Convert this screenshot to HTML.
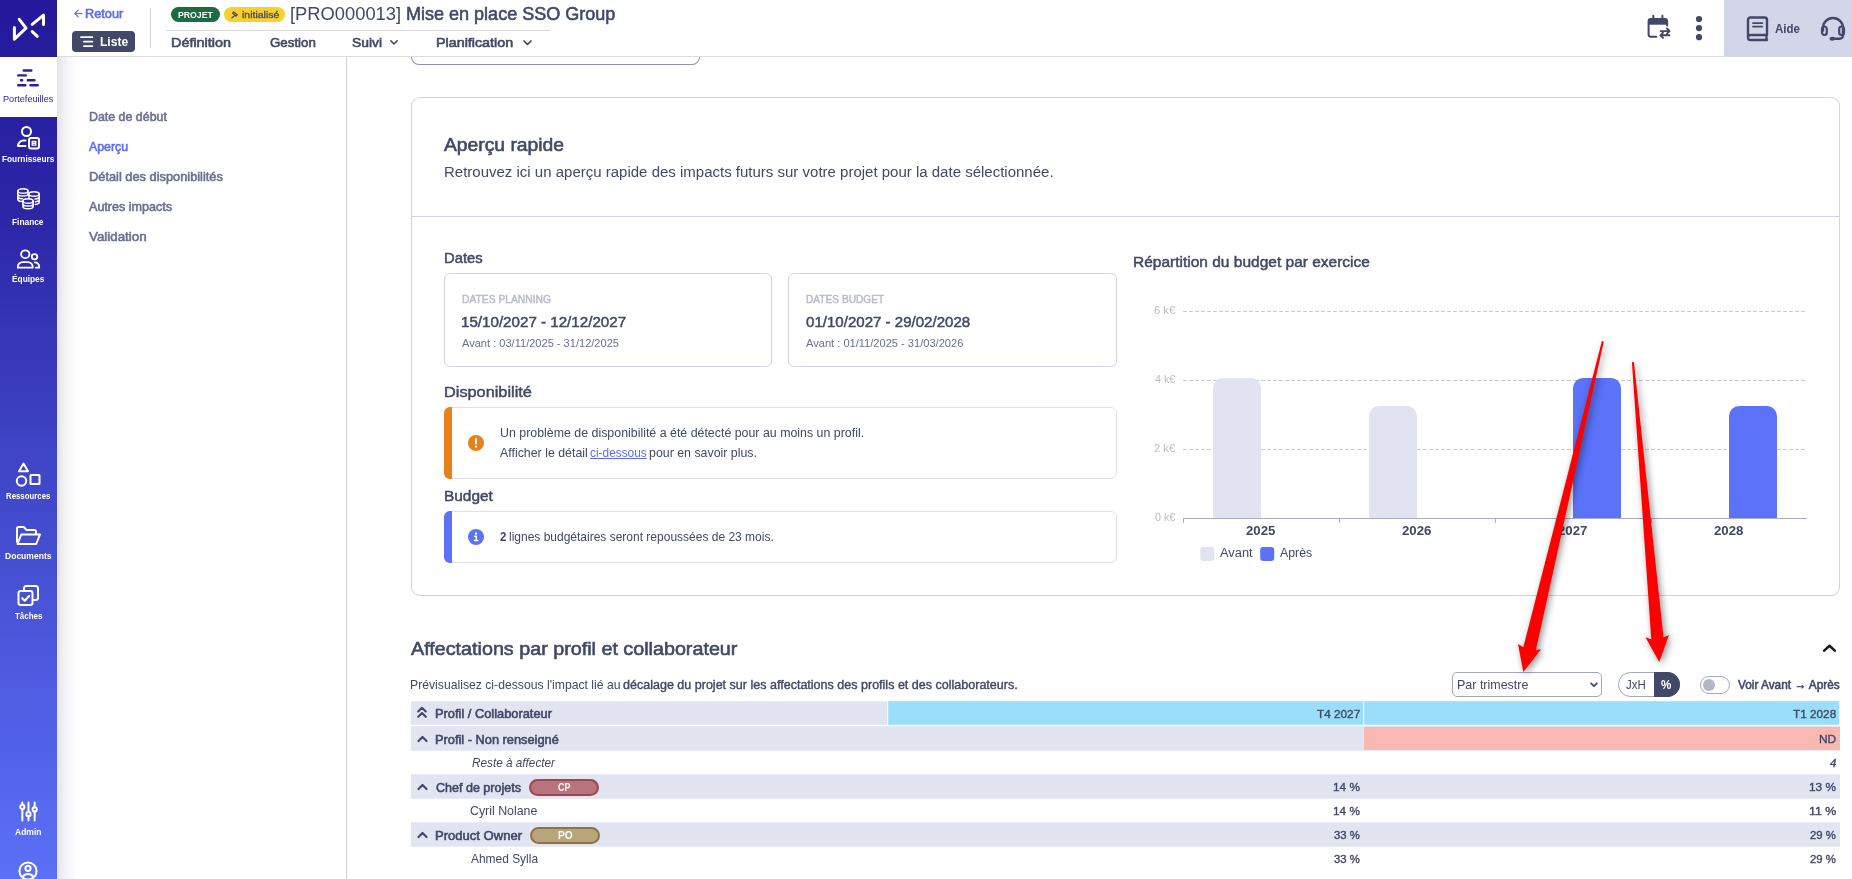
<!DOCTYPE html>
<html lang="fr">
<head>
<meta charset="utf-8">
<title>Aperçu rapide</title>
<style>
*{box-sizing:border-box;margin:0;padding:0}
html,body{width:1852px;height:879px;overflow:hidden;background:#fff;font-family:"Liberation Sans",sans-serif;color:#424867}
.a{position:absolute}
.t{position:absolute;white-space:nowrap;display:block;transform-origin:0 50%}
.texts{position:absolute;left:0;top:0;width:1852px;height:879px}
svg{position:absolute;overflow:visible}

</style>
</head>
<body>
<!-- ============ top header ============ -->
<div class="a" style="left:57px;top:0;width:1795px;height:57px;background:#fff;border-bottom:1px solid #dcdcdc"></div>
<div class="a" style="left:1724px;top:0;width:128px;height:57px;background:#d3d5e9"></div>
<div class="a" style="left:150px;top:8px;width:1px;height:40px;background:#d6d6d6"></div>
<div class="a" style="left:166px;top:30px;width:384px;height:1px;background:#d9d9d9"></div>
<div class="a" style="left:72px;top:31px;width:63px;height:21px;background:#424867;border-radius:4px"></div>
<svg style="left:80px;top:36px" width="14" height="12" viewBox="0 0 14 12"><path d="M1 1.200h11.300M4 5.700h8.300M4 10.200h8.300" stroke="#fff" stroke-width="1.800" fill="none" stroke-linecap="round"/></svg>
<div class="a" style="left:171px;top:7px;width:49px;height:15px;background:#1b6b43;border-radius:8px"></div>
<div class="a" style="left:224px;top:7px;width:61px;height:15px;background:#f9d12b;border-radius:8px"></div>
<svg style="left:230.800px;top:11px" width="7.600" height="7.600" viewBox="0 0 9 9"><path d="M3.2 1.2l4.2 3.4-1.6 1.6-3.8-3.6zM4.4 5.4L1 8.2" stroke="#424867" stroke-width="1.5" fill="none" stroke-linecap="round"/></svg>
<svg style="left:74px;top:8.500px" width="9" height="9" viewBox="0 0 10 10"><path d="M9.2 5H1M4.6 1.2L0.9 5l3.7 3.8" stroke="#5b6cf5" stroke-width="1.3" fill="none" stroke-linecap="round" stroke-linejoin="round"/></svg>
<svg style="left:390.300px;top:40.300px" width="8" height="5.300" viewBox="0 0 9 6"><path d="M1 1l3.5 3.5L8 1" stroke="#424867" stroke-width="1.7" fill="none" stroke-linecap="round" stroke-linejoin="round"/></svg>
<svg style="left:522.5px;top:40px" width="9" height="6" viewBox="0 0 9 6"><path d="M1 1l3.5 3.5L8 1" stroke="#424867" stroke-width="1.7" fill="none" stroke-linecap="round" stroke-linejoin="round"/></svg>
<!-- header right icons -->
<svg style="left:1646px;top:13px" width="26" height="27" viewBox="1646 13 26 27"><path d="M1648.600 19.500h18.500v5.200h-18.500z" fill="#424867"/><path d="M1656.300 36.700h-5.600a2.100 2.100 0 0 1-2.100-2.100v-13.400a2.100 2.100 0 0 1 2.100-2.100h14.300a2.100 2.100 0 0 1 2.100 2.100v4.200" stroke="#424867" stroke-width="2" fill="none" stroke-linecap="round"/><path d="M1653.300 15.800v3.500M1662.400 15.800v3.500" stroke="#424867" stroke-width="2" stroke-linecap="round"/><path d="M1660.600 31.100h8.600M1667 28.500l2.600 2.600-2.600 2.600M1669.400 35.300h-8.600M1663 32.700l-2.600 2.600 2.600 2.600" stroke="#424867" stroke-width="1.900" fill="none" stroke-linecap="round" stroke-linejoin="round"/></svg>
<svg style="left:1695px;top:15px" width="8" height="26" viewBox="0 0 8 26"><circle cx="4" cy="4" r="3.100" fill="#424867"/><circle cx="4" cy="13.100" r="3.100" fill="#424867"/><circle cx="4" cy="22.200" r="3.100" fill="#424867"/></svg>
<svg style="left:1746px;top:16px" width="23" height="26" viewBox="0 0 23 26"><path d="M2 20.500V3.900A2.400 2.400 0 0 1 4.400 1.500h14.200A2.400 2.400 0 0 1 21 3.900V19H4.500A2.500 2.500 0 0 0 2 21.500 2.500 2.500 0 0 0 4.500 24H21M20.500 19v5" stroke="#424867" stroke-width="2.400" fill="none" stroke-linecap="round" stroke-linejoin="round"/><path d="M7 7.100h9.300M7 10.600h9.300" stroke="#424867" stroke-width="1.900" stroke-linecap="round"/></svg>
<svg style="left:1820px;top:16px" width="26" height="26" viewBox="0 0 26 26"><path d="M3 14.500V12a10 10 0 0 1 20 0v7.500a3.200 3.200 0 0 1-3.200 3.200H14" stroke="#424867" stroke-width="2.400" fill="none" stroke-linecap="round"/><rect x="2" y="10.500" width="4.800" height="8.500" rx="2.400" stroke="#424867" stroke-width="2.200" fill="none"/><rect x="19.200" y="10.500" width="4.800" height="8.500" rx="2.400" stroke="#424867" stroke-width="2.200" fill="none"/><ellipse cx="12.200" cy="22.700" rx="2.700" ry="2" fill="#424867"/></svg>

<!-- ============ left sidebar ============ -->
<div class="a" style="left:57px;top:57px;width:26px;height:822px;background:linear-gradient(90deg,#e3e3e8 0,#eeeef1 5px,#f7f7f9 11px,#fcfcfd 17px,#fff 24px)"></div>
<div class="a" style="left:0;top:0;width:57px;height:879px;background:linear-gradient(180deg,#23189a 0,#2d27a8 25%,#3d43c4 50%,#4c59de 75%,#5b70f7 100%)"></div>
<div class="a" style="left:0;top:57px;width:57px;height:60px;background:#fff"></div>
<!-- logo -->
<svg style="left:0;top:0" width="57" height="57" viewBox="0 0 57 57"><path d="M14.4 27.500V39.200L26 28.200 19.300 19.300M32.200 24.300L43.500 15.200V24.600M32.300 31.600L37.300 36.300" stroke="#fff" stroke-width="3" fill="none" stroke-linecap="round" stroke-linejoin="round"/></svg>
<!-- portefeuilles -->
<svg style="left:0;top:57px" width="57" height="60" viewBox="0 57 57 60"><path d="M23.700 70.500h7.600M18.200 75.400h7.600M21 80.300h1.200M27.800 80.300h6.700M18.200 85.200h7.200M30.500 85.200h7.200" stroke="#2a1f9e" stroke-width="2.400" stroke-linecap="round" fill="none"/></svg>
<!-- fournisseurs -->
<svg style="left:16px;top:125px" width="26" height="26" viewBox="0 0 26 26"><circle cx="10.500" cy="6.500" r="4.500" stroke="#fff" stroke-width="2" fill="none"/><path d="M9.500 15.500H7.500A5.500 5.500 0 0 0 2 21h7.500" stroke="#fff" stroke-width="2" fill="none" stroke-linecap="round" stroke-linejoin="round"/><rect x="13" y="13" width="10" height="10.500" rx="2" stroke="#fff" stroke-width="2" fill="none"/><path d="M16.200 16.500h3.600v3.600h-3.600zM16.200 18.300h3.600" stroke="#fff" stroke-width="1.300" fill="none"/></svg>
<!-- finance -->
<svg style="left:15.500px;top:187px" width="25" height="23.500" viewBox="0 0 27 27" preserveAspectRatio="none"><g stroke="#fff" stroke-width="1.700" fill="none" stroke-linecap="round"><ellipse cx="7.500" cy="4.500" rx="5.500" ry="2.600"/><path d="M2 4.500v9.500c0 1.400 2 2.500 4.500 2.600M2 7.700c0 1.400 2.500 2.600 5.500 2.600s5.500-1.200 5.500-2.600M13 4.500v5M2 10.900c0 1.400 2.200 2.500 4.800 2.600"/><ellipse cx="19.500" cy="8" rx="5.500" ry="2.600"/><path d="M14 8v4M25 8v9.500c0 1.300-1.800 2.300-4.200 2.500M25 11.200c0 1.300-2 2.400-4.500 2.600M25 14.400c0 1.200-1.700 2.200-4 2.500"/><ellipse cx="13" cy="16" rx="5.500" ry="2.600"/><path d="M7.500 16v6.500c0 1.400 2.500 2.600 5.500 2.600s5.500-1.200 5.500-2.600V16M7.500 19.200c0 1.400 2.500 2.600 5.500 2.600s5.500-1.200 5.500-2.600"/></g></svg>
<!-- equipes -->
<svg style="left:15.500px;top:248.500px" width="25" height="20" viewBox="0 0 27 23" preserveAspectRatio="none"><g stroke="#fff" stroke-width="2" fill="none" stroke-linecap="round" stroke-linejoin="round"><circle cx="10" cy="6" r="4.500"/><path d="M2 21.500v-1.200A5.300 5.300 0 0 1 7.300 15h5.400A5.300 5.300 0 0 1 18 20.300v1.200z"/><circle cx="20" cy="9" r="3"/><path d="M20.500 15.500a4.500 4.500 0 0 1 4.500 4.500v1.500h-3.500"/></g></svg>
<!-- ressources -->
<svg style="left:15px;top:461px" width="27" height="27" viewBox="0 0 27 27"><g stroke="#fff" stroke-width="2" fill="none" stroke-linejoin="round"><path d="M8.500 2.500l4.500 7.700H4z"/><circle cx="6.500" cy="20" r="4.700"/><rect x="15.500" y="14" width="9" height="9" rx="0.500"/></g></svg>
<!-- documents -->
<svg style="left:15px;top:525px" width="27" height="21" viewBox="0 0 27 21"><g stroke="#fff" stroke-width="2" fill="none" stroke-linejoin="round" stroke-linecap="round"><path d="M2 17V3.500A1.500 1.500 0 0 1 3.500 2h5.300l2.700 3h8A1.500 1.500 0 0 1 21 6.500V9"/><path d="M2.500 19l3.800-9.500H25L21.200 19z"/></g></svg>
<!-- taches -->
<svg style="left:17px;top:584px" width="23" height="23" viewBox="0 0 23 23"><g stroke="#fff" stroke-width="2" fill="none" stroke-linejoin="round" stroke-linecap="round"><rect x="1.500" y="7" width="14" height="14" rx="2.200"/><path d="M7 7V4.200A2.200 2.200 0 0 1 9.200 2h9.600A2.200 2.200 0 0 1 21 4.200v9.600A2.200 2.200 0 0 1 18.800 16H16"/><path d="M5.200 14.200l2.500 2.500 4.500-4.700" stroke-width="2.200"/></g></svg>
<!-- admin -->
<svg style="left:18.500px;top:800.500px" width="19" height="21" viewBox="0 0 20 22"><g stroke="#fff" stroke-width="2.100" fill="none" stroke-linecap="round"><path d="M3.500 1.500v2.500M3.500 8.500v12M10 1.500v10M10 16v4.500M16.500 1.500v5M16.500 11v9.500"/><circle cx="3.500" cy="6.200" r="2.200"/><circle cx="10" cy="13.800" r="2.200"/><circle cx="16.500" cy="8.800" r="2.200"/></g></svg>
<!-- user -->
<svg style="left:18px;top:860.600px" width="20" height="20" viewBox="0 0 20 20"><g stroke="#fff" stroke-width="2" fill="none"><circle cx="10" cy="10" r="8.600"/><circle cx="10" cy="7.300" r="2.600"/><path d="M4.500 16.500c1-2.300 3-3.500 5.500-3.500s4.500 1.200 5.500 3.500"/></g></svg>

<!-- ============ left nav panel ============ -->
<div class="a" style="left:346px;top:57px;width:1px;height:822px;background:#d3d3d6"></div>

<!-- ============ content ============ -->
<div class="a" style="left:411px;top:40px;width:289px;height:25px;border:1px solid #8f93ad;border-top:0;border-radius:0 0 8px 8px;clip-path:inset(17px 0 0 0)"></div>
<div class="a" style="left:411px;top:97px;width:1429px;height:499px;border:1px solid #cfd2ea;border-radius:9px"></div>
<div class="a" style="left:412px;top:216px;width:1427px;height:1px;background:#cfd2ea"></div>
<div class="a" style="left:444px;top:273px;width:328px;height:94px;border:1px solid #cfd2ea;border-radius:6px"></div>
<div class="a" style="left:788px;top:273px;width:329px;height:94px;border:1px solid #cfd2ea;border-radius:6px"></div>
<!-- alerts -->
<div class="a" style="left:444px;top:407px;width:673px;height:72px;border:1px solid #dfe1f1;border-radius:6px"></div>
<div class="a" style="left:444px;top:407px;width:8px;height:72px;background:#e8811a;border-radius:6px 0 0 6px"></div>
<div class="a" style="left:444px;top:511px;width:673px;height:52px;border:1px solid #dfe1f1;border-radius:6px"></div>
<div class="a" style="left:444px;top:511px;width:8px;height:52px;background:#5b72f9;border-radius:6px 0 0 6px"></div>
<svg style="left:468px;top:435px" width="16" height="16" viewBox="0 0 16 16"><circle cx="8" cy="8" r="8" fill="#e8811a"/><path d="M8 4v4.600" stroke="#fff" stroke-width="1.900" stroke-linecap="round"/><circle cx="8" cy="11.600" r="1.150" fill="#fff"/></svg>
<svg style="left:468px;top:529px" width="16" height="16" viewBox="0 0 16 16"><circle cx="8" cy="8" r="8" fill="#5b72f9"/><circle cx="8" cy="4.600" r="1.150" fill="#fff"/><path d="M6.600 7.300H8.300V11.500M6.500 11.600h3.300" stroke="#fff" stroke-width="1.500" fill="none" stroke-linecap="round" stroke-linejoin="round"/></svg>

<!-- chart -->
<svg style="left:0;top:0" width="1852" height="879" viewBox="0 0 1852 879">
<g stroke="#c9cbd6" stroke-width="1" stroke-dasharray="4 2" fill="none"><path d="M1183 311.500H1805M1183 380.500H1805M1183 449.500H1805"/></g>
<path d="M1183 518.500H1807M1183.500 518v5M1339.500 518v5M1495.500 518v5M1651.500 518v5" stroke="#a9acc4" stroke-width="1" fill="none"/>
<path d="M1213 518V388a10 10 0 0 1 10-10h28a10 10 0 0 1 10 10V518zM1369 518V416a10 10 0 0 1 10-10h28a10 10 0 0 1 10 10V518z" fill="#e1e3f0"/>
<path d="M1573 518V388a10 10 0 0 1 10-10h28a10 10 0 0 1 10 10V518zM1729 518V416a10 10 0 0 1 10-10h28a10 10 0 0 1 10 10V518z" fill="#5b72f9"/>
<rect x="1200.300" y="547" width="14" height="14" rx="3" fill="#e1e3f0"/>
<rect x="1260.200" y="547" width="14" height="14" rx="3" fill="#5b72f9"/>
</svg>

<!-- section 2 controls -->
<svg style="left:1822px;top:642.600px" width="15" height="10" viewBox="0 0 15 10"><path d="M2.200 7.600L7.500 2.800 12.800 7.600" stroke="#1c1c1c" stroke-width="2.600" fill="none" stroke-linecap="round" stroke-linejoin="round"/></svg>
<div class="a" style="left:1452px;top:672px;width:150px;height:25px;border:1px solid #a3a5bd;border-radius:5px;background:#fff"></div>
<svg style="left:1589.600px;top:681.600px" width="8" height="6.200" viewBox="0 0 9 7"><path d="M1.200 1.500l3.300 3.300 3.300-3.300" stroke="#424867" stroke-width="2" fill="none" stroke-linecap="round" stroke-linejoin="round"/></svg>
<div class="a" style="left:1618px;top:672px;width:62px;height:25px;border:1px solid #a3a5bd;border-radius:13px;background:#fff"></div>
<div class="a" style="left:1654px;top:672px;width:26px;height:25px;background:#424867;border-radius:0 12.500px 12.500px 0"></div>
<div class="a" style="left:1700px;top:676px;width:30px;height:18px;border:1px solid #a6a9bf;border-radius:9px;background:#fff"></div>
<div class="a" style="left:1703px;top:679px;width:12px;height:12px;border-radius:50%;background:#b3b5c9"></div>

<!-- table -->
<svg style="left:0;top:0" width="1852" height="879" viewBox="0 0 1852 879">
<rect x="411" y="701.200" width="476.200" height="23.600" fill="#e2e4f1"/>
<rect x="888.200" y="701.200" width="474.900" height="23.600" fill="#9bdefa"/>
<rect x="1364.100" y="701.200" width="475.100" height="23.600" fill="#9bdefa"/>
<rect x="411" y="726.200" width="1429" height="24.500" fill="#e2e4f1"/>
<rect x="1364.100" y="726.800" width="475.900" height="23.200" fill="#f9b9b2"/>
<rect x="411" y="774.300" width="1429" height="24.400" fill="#e2e4f1"/>
<rect x="411" y="822.300" width="1429" height="24.400" fill="#e2e4f1"/>
</svg>
<svg style="left:417px;top:706.400px" width="10" height="13" viewBox="0 0 10 13"><path d="M1.200 5.500L5 1.800 8.800 5.500M1.200 10.800L5 7.100l3.800 3.700" stroke="#424867" stroke-width="2.100" fill="none" stroke-linecap="round" stroke-linejoin="round"/></svg>
<svg style="left:417.400px;top:735px" width="11" height="8" viewBox="0 0 11 8"><path d="M1.500 6L5.500 2l4 4" stroke="#424867" stroke-width="2.200" fill="none" stroke-linecap="round" stroke-linejoin="round"/></svg>
<svg style="left:417.400px;top:783px" width="11" height="8" viewBox="0 0 11 8"><path d="M1.500 6L5.500 2l4 4" stroke="#424867" stroke-width="2.200" fill="none" stroke-linecap="round" stroke-linejoin="round"/></svg>
<svg style="left:417.400px;top:831px" width="11" height="8" viewBox="0 0 11 8"><path d="M1.500 6L5.500 2l4 4" stroke="#424867" stroke-width="2.200" fill="none" stroke-linecap="round" stroke-linejoin="round"/></svg>
<div class="a" style="left:529px;top:779px;width:70px;height:17px;background:#b9737a;border:2px solid #a04552;border-radius:9px"></div>
<div class="a" style="left:530px;top:827px;width:70px;height:17px;background:#b9a57c;border:2px solid #8f7443;border-radius:9px"></div>

<div class="texts">
<span class="t" style="left:84.86px;top:7.00px;color:#5b6cf5;font-size:13.02px;line-height:13.02px;-webkit-text-stroke:0.046em;transform:scaleX(0.9790);">Retour</span>
<span class="t" style="left:100.13px;top:35.00px;color:#fff;font-size:13.02px;line-height:13.02px;font-weight:700;transform:scaleX(0.9254);">Liste</span>
<span class="t" style="left:177.72px;top:11.00px;color:#fff;font-size:9.3px;line-height:9.3px;font-weight:700;transform:scaleX(0.9332);">PROJET</span>
<span class="t" style="left:242.07px;top:10.00px;color:#424867;font-size:9.58px;line-height:9.58px;-webkit-text-stroke:0.032em;transform:scaleX(1.0955);">initialisé</span>
<span class="t" style="left:289.85px;top:5.00px;color:#424867;font-size:18.6px;line-height:18.6px;transform:scaleX(0.9862);">[PRO000013]</span>
<span class="t" style="left:406.29px;top:5.00px;color:#424867;font-size:18.6px;line-height:18.6px;-webkit-text-stroke:0.032em;transform:scaleX(0.9691);">Mise en place SSO Group</span>
<span class="t" style="left:170.69px;top:36.00px;color:#424867;font-size:13.02px;line-height:13.02px;-webkit-text-stroke:0.046em;transform:scaleX(1.1058);">Définition</span>
<span class="t" style="left:269.50px;top:36.00px;color:#424867;font-size:13.02px;line-height:13.02px;-webkit-text-stroke:0.046em;transform:scaleX(1.0224);">Gestion</span>
<span class="t" style="left:352.09px;top:36.00px;color:#424867;font-size:13.02px;line-height:13.02px;-webkit-text-stroke:0.046em;transform:scaleX(1.0638);">Suivi</span>
<span class="t" style="left:436.34px;top:36.00px;color:#424867;font-size:13.02px;line-height:13.02px;-webkit-text-stroke:0.046em;transform:scaleX(1.0991);">Planification</span>
<span class="t" style="left:1774.60px;top:23.00px;color:#424867;font-size:12.09px;line-height:12.09px;font-weight:700;transform:scaleX(0.9500);">Aide</span>
<span class="t" style="left:2.93px;top:95.00px;color:#2a1f9e;font-size:9.3px;line-height:9.3px;transform:scaleX(0.9834);">Portefeuilles</span>
<span class="t" style="left:2.19px;top:155.00px;color:#fff;font-size:9.3px;line-height:9.3px;font-weight:700;transform:scaleX(0.8880);">Fournisseurs</span>
<span class="t" style="left:12.17px;top:218.00px;color:#fff;font-size:9.3px;line-height:9.3px;font-weight:700;transform:scaleX(0.8966);">Finance</span>
<span class="t" style="left:12.14px;top:275.00px;color:#fff;font-size:9.3px;line-height:9.3px;font-weight:700;transform:scaleX(0.8953);">Équipes</span>
<span class="t" style="left:6.22px;top:492.00px;color:#fff;font-size:9.3px;line-height:9.3px;font-weight:700;transform:scaleX(0.8415);">Ressources</span>
<span class="t" style="left:4.55px;top:552.00px;color:#fff;font-size:9.3px;line-height:9.3px;font-weight:700;transform:scaleX(0.9179);">Documents</span>
<span class="t" style="left:14.74px;top:612.00px;color:#fff;font-size:9.3px;line-height:9.3px;font-weight:700;transform:scaleX(0.8550);">Tâches</span>
<span class="t" style="left:14.91px;top:828.00px;color:#fff;font-size:9.3px;line-height:9.3px;font-weight:700;transform:scaleX(0.9148);">Admin</span>
<span class="t" style="left:88.83px;top:112.00px;color:#6b7091;font-size:11.9px;line-height:11.9px;-webkit-text-stroke:0.046em;transform:scaleX(1.0423);">Date de début</span>
<span class="t" style="left:88.76px;top:142.00px;color:#5b6cf5;font-size:11.9px;line-height:11.9px;-webkit-text-stroke:0.046em;transform:scaleX(1.0374);">Aperçu</span>
<span class="t" style="left:89.01px;top:172.00px;color:#6b7091;font-size:11.9px;line-height:11.9px;-webkit-text-stroke:0.046em;transform:scaleX(1.0775);">Détail des disponibilités</span>
<span class="t" style="left:88.66px;top:202.00px;color:#6b7091;font-size:11.9px;line-height:11.9px;-webkit-text-stroke:0.046em;transform:scaleX(1.0564);">Autres impacts</span>
<span class="t" style="left:89.37px;top:232.00px;color:#6b7091;font-size:11.9px;line-height:11.9px;-webkit-text-stroke:0.046em;transform:scaleX(1.1222);">Validation</span>
<span class="t" style="left:444.46px;top:136.00px;color:#424867;font-size:18.6px;line-height:18.6px;-webkit-text-stroke:0.032em;transform:scaleX(1.0364);">Aperçu rapide</span>
<span class="t" style="left:444.06px;top:165.00px;color:#424867;font-size:14.88px;line-height:14.88px;transform:scaleX(1.0085);">Retrouvez ici un aperçu rapide des impacts futurs sur votre projet pour la date sélectionnée.</span>
<span class="t" style="left:444.07px;top:251.00px;color:#424867;font-size:14.88px;line-height:14.88px;-webkit-text-stroke:0.032em;transform:scaleX(0.9949);">Dates</span>
<span class="t" style="left:461.50px;top:295.00px;color:#b9bbc9;font-size:10.23px;line-height:10.23px;-webkit-text-stroke:0.046em;transform:scaleX(1.0065);">DATES PLANNING</span>
<span class="t" style="left:460.60px;top:315.00px;color:#424867;font-size:14.88px;line-height:14.88px;-webkit-text-stroke:0.032em;transform:scaleX(1.0183);">15/10/2027 - 12/12/2027</span>
<span class="t" style="left:461.50px;top:339.00px;color:#6b7091;font-size:10.23px;line-height:10.23px;transform:scaleX(1.0818);">Avant : 03/11/2025 - 31/12/2025</span>
<span class="t" style="left:805.78px;top:295.00px;color:#b9bbc9;font-size:10.23px;line-height:10.23px;-webkit-text-stroke:0.046em;transform:scaleX(0.9931);">DATES BUDGET</span>
<span class="t" style="left:805.67px;top:315.00px;color:#424867;font-size:14.88px;line-height:14.88px;-webkit-text-stroke:0.032em;transform:scaleX(1.0129);">01/10/2027 - 29/02/2028</span>
<span class="t" style="left:805.64px;top:339.00px;color:#6b7091;font-size:10.23px;line-height:10.23px;transform:scaleX(1.0845);">Avant : 01/11/2025 - 31/03/2026</span>
<span class="t" style="left:443.99px;top:385.00px;color:#424867;font-size:14.88px;line-height:14.88px;-webkit-text-stroke:0.032em;transform:scaleX(1.0957);">Disponibilité</span>
<span class="t" style="left:499.59px;top:427.00px;color:#424867;font-size:12.09px;line-height:12.09px;transform:scaleX(1.0251);">Un problème de disponibilité a été détecté pour au moins un profil.</span>
<span class="t" style="left:499.67px;top:447.00px;color:#424867;font-size:12.09px;line-height:12.09px;transform:scaleX(1.0239);">Afficher le détail</span>
<span class="t" style="left:590.09px;top:447.00px;color:#5b6cf5;font-size:12.09px;line-height:12.09px;text-decoration:underline;transform:scaleX(0.9828);">ci-dessous</span>
<span class="t" style="left:648.59px;top:447.00px;color:#424867;font-size:12.09px;line-height:12.09px;transform:scaleX(1.0246);">pour en savoir plus.</span>
<span class="t" style="left:443.84px;top:489.00px;color:#424867;font-size:14.88px;line-height:14.88px;-webkit-text-stroke:0.032em;transform:scaleX(1.0365);">Budget</span>
<span class="t" style="left:500.00px;top:531.00px;color:#424867;font-size:12.09px;line-height:12.09px;font-weight:700;transform:scaleX(0.9500);">2</span>
<span class="t" style="left:508.87px;top:531.00px;color:#424867;font-size:12.09px;line-height:12.09px;transform:scaleX(0.9932);">lignes budgétaires seront repoussées de 23 mois.</span>
<span class="t" style="left:1132.82px;top:255.00px;color:#424867;font-size:14.88px;line-height:14.88px;-webkit-text-stroke:0.032em;transform:scaleX(1.0419);">Répartition du budget par exercice</span>
<span class="t" style="left:1154.01px;top:306.00px;color:#b9bbc9;font-size:10.23px;line-height:10.23px;transform:scaleX(1.1000);">6 k€</span>
<span class="t" style="left:1154.87px;top:375.00px;color:#b9bbc9;font-size:10.23px;line-height:10.23px;transform:scaleX(1.0503);">4 k€</span>
<span class="t" style="left:1154.01px;top:444.00px;color:#b9bbc9;font-size:10.23px;line-height:10.23px;transform:scaleX(1.1000);">2 k€</span>
<span class="t" style="left:1154.87px;top:513.00px;color:#b9bbc9;font-size:10.23px;line-height:10.23px;transform:scaleX(1.0503);">0 k€</span>
<span class="t" style="left:1246.08px;top:525.00px;color:#424867;font-size:12.56px;line-height:12.56px;font-weight:700;transform:scaleX(1.0523);">2025</span>
<span class="t" style="left:1402.08px;top:525.00px;color:#424867;font-size:12.56px;line-height:12.56px;font-weight:700;transform:scaleX(1.0523);">2026</span>
<span class="t" style="left:1558.08px;top:525.00px;color:#424867;font-size:12.56px;line-height:12.56px;font-weight:700;transform:scaleX(1.0523);">2027</span>
<span class="t" style="left:1714.08px;top:525.00px;color:#424867;font-size:12.56px;line-height:12.56px;font-weight:700;transform:scaleX(1.0523);">2028</span>
<span class="t" style="left:1219.92px;top:547.00px;color:#424867;font-size:12.28px;line-height:12.28px;transform:scaleX(1.0483);">Avant</span>
<span class="t" style="left:1280.12px;top:547.00px;color:#424867;font-size:12.28px;line-height:12.28px;transform:scaleX(1.0038);">Après</span>
<span class="t" style="left:410.65px;top:640.00px;color:#424867;font-size:18.6px;line-height:18.6px;-webkit-text-stroke:0.032em;transform:scaleX(1.0609);">Affectations par profil et collaborateur</span>
<span class="t" style="left:410.44px;top:679.00px;color:#424867;font-size:12.09px;line-height:12.09px;transform:scaleX(1.0101);">Prévisualisez ci-dessous l'impact lié au</span>
<span class="t" style="left:623.46px;top:679.00px;color:#424867;font-size:12.09px;line-height:12.09px;-webkit-text-stroke:0.032em;transform:scaleX(1.0374);">décalage du projet sur les affectations des profils et des collaborateurs.</span>
<span class="t" style="left:1456.79px;top:679.00px;color:#424867;font-size:12.09px;line-height:12.09px;transform:scaleX(1.0331);">Par trimestre</span>
<span class="t" style="left:1625.80px;top:679.00px;color:#424867;font-size:12.09px;line-height:12.09px;transform:scaleX(0.9500);">JxH</span>
<span class="t" style="left:1661.30px;top:679.00px;color:#fff;font-size:12.09px;line-height:12.09px;font-weight:700;transform:scaleX(0.9595);">%</span>
<span class="t" style="left:1737.90px;top:679.00px;color:#424867;font-size:12.09px;line-height:12.09px;-webkit-text-stroke:0.046em;transform:scaleX(0.9788);">Voir Avant → Après</span>
<span class="t" style="left:434.53px;top:708.00px;color:#424867;font-size:12.09px;line-height:12.09px;-webkit-text-stroke:0.046em;transform:scaleX(1.0624);">Profil / Collaborateur</span>
<span class="t" style="left:1317.29px;top:708.00px;color:#424867;font-size:11.62px;line-height:11.62px;-webkit-text-stroke:0.032em;transform:scaleX(1.0141);">T4 2027</span>
<span class="t" style="left:1793.09px;top:708.00px;color:#424867;font-size:11.62px;line-height:11.62px;-webkit-text-stroke:0.032em;transform:scaleX(1.0141);">T1 2028</span>
<span class="t" style="left:434.54px;top:734.00px;color:#424867;font-size:12.09px;line-height:12.09px;-webkit-text-stroke:0.046em;transform:scaleX(1.0597);">Profil - Non renseigné</span>
<span class="t" style="left:1819.04px;top:733.00px;color:#424867;font-size:11.62px;line-height:11.62px;-webkit-text-stroke:0.032em;transform:scaleX(1.0260);">ND</span>
<span class="t" style="left:471.50px;top:757.00px;color:#424867;font-size:12.09px;line-height:12.09px;font-style:italic;transform:scaleX(0.9735);">Reste à affecter</span>
<span class="t" style="left:1830.11px;top:757.00px;color:#424867;font-size:11.62px;line-height:11.62px;-webkit-text-stroke:0.032em;font-style:italic;transform:scaleX(0.9817);">4</span>
<span class="t" style="left:436.34px;top:782.00px;color:#424867;font-size:12.09px;line-height:12.09px;-webkit-text-stroke:0.046em;transform:scaleX(1.0365);">Chef de projets</span>
<span class="t" style="left:557.56px;top:782.00px;color:#fff;font-size:10.7px;line-height:10.7px;font-weight:700;transform:scaleX(0.8346);">CP</span>
<span class="t" style="left:1333.22px;top:781.00px;color:#424867;font-size:11.62px;line-height:11.62px;-webkit-text-stroke:0.032em;transform:scaleX(1.0173);">14 %</span>
<span class="t" style="left:1809.01px;top:781.00px;color:#424867;font-size:11.62px;line-height:11.62px;-webkit-text-stroke:0.032em;transform:scaleX(1.0173);">13 %</span>
<span class="t" style="left:470.42px;top:805.00px;color:#424867;font-size:12.09px;line-height:12.09px;transform:scaleX(1.0232);">Cyril Nolane</span>
<span class="t" style="left:1333.22px;top:805.00px;color:#424867;font-size:11.62px;line-height:11.62px;-webkit-text-stroke:0.032em;transform:scaleX(1.0173);">14 %</span>
<span class="t" style="left:1808.96px;top:805.00px;color:#424867;font-size:11.62px;line-height:11.62px;-webkit-text-stroke:0.032em;transform:scaleX(1.0615);">11 %</span>
<span class="t" style="left:434.61px;top:830.00px;color:#424867;font-size:12.09px;line-height:12.09px;-webkit-text-stroke:0.046em;transform:scaleX(1.0801);">Product Owner</span>
<span class="t" style="left:558.00px;top:830.00px;color:#fff;font-size:10.7px;line-height:10.7px;font-weight:700;transform:scaleX(0.9500);">PO</span>
<span class="t" style="left:1334.30px;top:829.00px;color:#424867;font-size:11.62px;line-height:11.62px;-webkit-text-stroke:0.032em;transform:scaleX(0.9766);">33 %</span>
<span class="t" style="left:1810.09px;top:829.00px;color:#424867;font-size:11.62px;line-height:11.62px;-webkit-text-stroke:0.032em;transform:scaleX(0.9766);">29 %</span>
<span class="t" style="left:471.22px;top:853.00px;color:#424867;font-size:12.09px;line-height:12.09px;transform:scaleX(0.9887);">Ahmed Sylla</span>
<span class="t" style="left:1334.30px;top:853.00px;color:#424867;font-size:11.62px;line-height:11.62px;-webkit-text-stroke:0.032em;transform:scaleX(0.9766);">33 %</span>
<span class="t" style="left:1810.09px;top:853.00px;color:#424867;font-size:11.62px;line-height:11.62px;-webkit-text-stroke:0.032em;transform:scaleX(0.9766);">29 %</span>
</div>
<svg style="left:0;top:0;filter:drop-shadow(2.500px 2px 3.500px rgba(0,0,0,.45))" width="1852" height="879" viewBox="0 0 1852 879">
<path d="M1601.900 341L1603.800 341.400 1535.800 650.600 1541.200 649.100 1523.300 671.900 1518 644.100 1523.300 647.200Z" fill="#fe0000"/>
<path d="M1631.900 362.200L1633.900 361.900 1663.500 637.500 1668.900 635 1659.300 662 1645.400 637.300 1651.300 639.200Z" fill="#fe0000"/>
</svg>

</body>
</html>
